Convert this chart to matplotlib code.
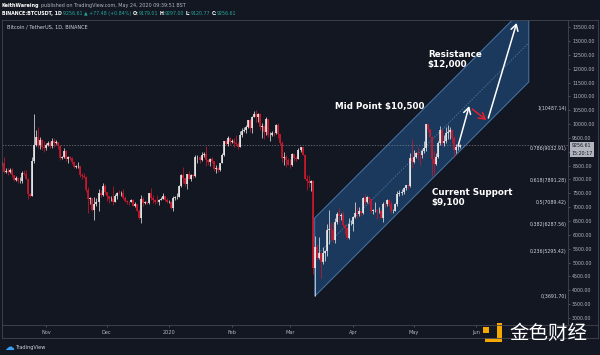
import pandas as pd
import numpy as np
import matplotlib
matplotlib.use('Agg')
import matplotlib.pyplot as plt
import matplotlib.dates as mdates
from matplotlib.lines import Line2D
from matplotlib.patches import Rectangle, Polygon
import matplotlib.transforms as mtransforms

# --- daily candles, BTCUSDT 1D ---
first_open = 8560
dates = pd.date_range('2019-10-10', '2020-05-24', freq='D')

closes_oct = [8590, 8260, 8300, 8280, 8360, 8150, 7990, 8070, 7950, 7960, 8230, 8200, 8020, 7470, 7410, 8660, 9250, 9550, 9250, 9430, 9170, 9150]
highs_oct = [8660, 8800, 8400, 8420, 8400, 8400, 8170, 8120, 8100, 8100, 8300, 8330, 8330, 8050, 7500, 8800, 10370, 9800, 9900, 9550, 9450, 9400]
lows_oct = [8470, 8220, 8230, 8160, 8250, 8100, 7950, 7930, 7880, 7860, 7880, 8150, 8000, 7300, 7350, 7400, 8600, 9200, 9150, 9100, 9050, 9000]

closes_nov = [9260, 9320, 9200, 9400, 9310, 9350, 9200, 8770, 8810, 9040, 8730, 8810, 8760, 8640, 8460, 8490, 8500, 8170, 8120, 8080, 7620, 7280, 7330, 6910, 7120, 7170, 7520, 7430, 7750, 7550]
highs_nov = [9300, 9380, 9380, 9510, 9480, 9420, 9370, 9240, 8860, 9150, 9080, 8850, 8850, 8800, 8680, 8520, 8620, 8500, 8220, 8230, 8120, 7720, 7360, 7330, 7370, 7330, 7650, 7620, 7870, 7820]
lows_nov = [9050, 9200, 9120, 9150, 9180, 9270, 9100, 8700, 8740, 8770, 8670, 8600, 8700, 8570, 8430, 8420, 8410, 8100, 8000, 8050, 7550, 6800, 7100, 6870, 6520, 7050, 6860, 7380, 7420, 7480]

closes_dec = [7400, 7290, 7300, 7200, 7390, 7530, 7510, 7530, 7340, 7220, 7200, 7190, 7250, 7060, 7110, 6880, 6620, 7280, 7150, 7190, 7140, 7510, 7320, 7250, 7200, 7190, 7250, 7300, 7390, 7250, 7200]
highs_dec = [7550, 7420, 7400, 7750, 7490, 7560, 7620, 7580, 7640, 7390, 7270, 7230, 7300, 7280, 7170, 7130, 6940, 7440, 7380, 7220, 7190, 7520, 7700, 7440, 7280, 7440, 7290, 7370, 7520, 7420, 7330]
lows_dec = [7230, 7160, 7230, 7080, 7170, 7310, 7490, 7420, 7310, 7170, 7130, 7080, 7180, 7040, 7010, 6860, 6560, 6440, 7040, 7100, 7120, 7100, 7270, 7160, 7130, 7160, 7080, 7250, 7290, 7220, 7160]

closes_jan = [7200, 6970, 7340, 7350, 7360, 7760, 8160, 8040, 7820, 8200, 8020, 8180, 8110, 8810, 8820, 8720, 8900, 8910, 8700, 8630, 8730, 8660, 8380, 8430, 8330, 8600, 8900, 9390, 9290, 9500, 9350]
highs_jan = [7250, 7210, 7400, 7390, 7500, 7800, 8210, 8460, 8050, 8200, 8290, 8200, 8200, 8880, 8900, 8850, 9000, 9000, 9200, 8750, 8770, 8800, 8680, 8520, 8440, 8600, 8970, 9400, 9430, 9570, 9530]
lows_jan = [7150, 6920, 6870, 7270, 7310, 7350, 7720, 7870, 7750, 7670, 8000, 7960, 8040, 8100, 8580, 8600, 8680, 8800, 8470, 8530, 8500, 8590, 8300, 8240, 8270, 8300, 8580, 8860, 9250, 9220, 9250]

closes_feb = [9380, 9330, 9290, 9180, 9610, 9760, 9800, 9900, 10150, 9850, 10270, 10350, 10240, 10370, 9900, 9930, 9700, 10180, 9600, 9610, 9690, 9670, 9960, 9650, 9310, 8790, 8810, 8710, 8530]
highs_feb = [9460, 9480, 9610, 9340, 9750, 9860, 9880, 9950, 10160, 10180, 10300, 10480, 10520, 10390, 10400, 10050, 9970, 10250, 10200, 9700, 9750, 9700, 9990, 10030, 9660, 9380, 8980, 8900, 8790]
lows_feb = [9300, 9160, 9230, 9090, 9160, 9540, 9730, 9670, 9850, 9730, 9690, 10250, 10080, 10090, 9780, 9480, 9470, 9600, 9550, 9400, 9560, 9580, 9650, 9500, 9260, 8630, 8530, 8450, 8530]

closes_mar = [8520, 8910, 8760, 8750, 9070, 9160, 8900, 8030, 7930, 7880, 7950, 4800, 5580, 5170, 5350, 5030, 5330, 5410, 6190, 6200, 6190, 5810, 6480, 6740, 6680, 6730, 6370, 6250, 5880, 6390, 6410]
highs_mar = [8750, 8950, 8930, 8840, 9140, 9170, 9190, 8920, 8180, 8150, 7990, 7970, 5960, 5670, 5940, 5370, 5550, 5450, 6390, 6900, 6450, 6420, 6600, 6840, 6980, 6800, 6870, 6380, 6270, 6620, 6520]
lows_mar = [8410, 8500, 8650, 8660, 8750, 8990, 8870, 8000, 7630, 7730, 7590, 4580, 3780, 5090, 5130, 4450, 4950, 5060, 5250, 5670, 5860, 5760, 5690, 6380, 6480, 6520, 6270, 6020, 5860, 5860, 6360]

closes_apr = [6640, 6800, 6740, 6860, 6780, 7330, 7200, 7370, 7300, 6870, 6890, 6910, 6860, 6880, 6620, 7120, 7100, 7260, 7130, 6850, 6860, 7130, 7490, 7510, 7540, 7700, 7790, 7760, 8780, 8620]
highs_apr = [6680, 7200, 7000, 6990, 6870, 7370, 7470, 7420, 7380, 7300, 6950, 7180, 6920, 6990, 6940, 7190, 7150, 7300, 7280, 7220, 6940, 7160, 7580, 7620, 7670, 7720, 7800, 7800, 8970, 9460]
lows_apr = [6150, 6600, 6620, 6680, 6700, 6770, 7080, 7150, 7110, 6780, 6770, 6810, 6570, 6800, 6610, 6470, 7000, 7040, 7060, 6800, 6790, 6850, 7030, 7390, 7450, 7470, 7620, 7660, 7740, 8420]

closes_may = [8830, 8970, 8890, 8880, 9030, 9150, 9990, 9810, 9550, 8730, 8570, 8810, 9310, 9790, 9310, 9380, 9680, 9730, 9780, 9510, 9060, 9170, 9180, 9256.61]
highs_may = [9050, 9010, 9190, 8950, 9100, 9390, 9990, 10000, 9820, 9580, 9030, 8970, 9400, 9930, 9840, 9590, 9880, 9950, 9900, 9840, 9570, 9270, 9300, 9297.00]
lows_may = [8610, 8760, 8700, 8530, 8760, 8950, 9030, 9700, 9520, 8120, 8200, 8540, 8780, 9260, 9260, 9220, 9300, 9460, 9470, 9300, 8810, 8950, 9080, 9120.77]

closes = closes_oct + closes_nov + closes_dec + closes_jan + closes_feb + closes_mar + closes_apr + closes_may
highs = highs_oct + highs_nov + highs_dec + highs_jan + highs_feb + highs_mar + highs_apr + highs_may
lows = lows_oct + lows_nov + lows_dec + lows_jan + lows_feb + lows_mar + lows_apr + lows_may
opens = [first_open] + closes[:-1]

last_price = 9256.61

# fib retracement levels
fib_ratios = ['1', '0.786', '0.618', '0.5', '0.382', '0.236', '0']
fib_prices = [10487.14, 9032.91, 7891.28, 7089.42, 6287.56, 5295.42, 3691.70]

# parallel channel
channel_dates = ['2020-03-13', '2020-06-27']
channel_low = [3780, 11520]
channel_width = 2830

# arrows drawn on the chart: (start date, start price, end date, end price)
arrow_up_short = ('2020-05-23', 9210, '2020-05-28 12:00', 10650)
arrow_down = ('2020-05-30', 10545, '2020-06-06', 10150)
arrow_up_long = ('2020-06-07', 10220, '2020-06-21', 13650)

month_ticks = ['2019-11-01', '2019-12-01', '2020-01-01', '2020-02-01', '2020-03-01',
               '2020-04-01', '2020-05-01', '2020-06-01']
month_labels = ['Nov', 'Dec', '2020', 'Feb', 'Mar', 'Apr', 'May', 'Jun']

# --- colours ---
BG = '#131722'
GRID = '#434651'
UP = '#f0f0f0'
DOWN = '#d3172b'
AXIS_TXT = '#b2b5be'
TEAL = '#26a69a'

W, H = 600, 355
fig = plt.figure(figsize=(6, 3.55), dpi=100, facecolor=BG)
ax = fig.add_axes([2 / W, 1 - 325 / H, 566 / W, 305 / H])
ax.set_facecolor(BG)


def fx(px):
    return px / W


def fy(py):
    return 1 - py / H


def dnum(s):
    return mdates.date2num(pd.Timestamp(s))


x = mdates.date2num(dates)
o = np.array(opens, dtype=float)
c = np.array(closes, dtype=float)
hi = np.array(highs, dtype=float)
lo = np.array(lows, dtype=float)
up = c >= o

# channel under the candles
c0, c1 = dnum(channel_dates[0]), dnum(channel_dates[1])
poly = Polygon([(c0, channel_low[0]), (c1, channel_low[1]),
                (c1, channel_low[1] + channel_width), (c0, channel_low[0] + channel_width)],
               closed=True, facecolor='#1c3d63', edgecolor='#4d7fb5', lw=0.7, alpha=0.9, zorder=1)
ax.add_patch(poly)
ax.plot([c0, c1], [channel_low[0] + channel_width / 2, channel_low[1] + channel_width / 2],
        color='#5f83ad', lw=0.5, dashes=(2, 2), zorder=1.5)

# candles
for mask, col in [(up, UP), (~up, DOWN)]:
    ax.vlines(x[mask], lo[mask], hi[mask], color=col, lw=0.5, zorder=3)
    ax.vlines(x[mask], o[mask], c[mask], color=col, lw=1.15, zorder=3)

# last price line
ax.axhline(last_price, color='#787b86', lw=0.5, dashes=(2, 2), zorder=2)

ax.set_xlim(dnum('2019-10-10') + 0.22, dnum('2019-10-10') + 0.22 + 280.2)
ax.set_ylim(2747, 13758)

# fib labels
trans = mtransforms.blended_transform_factory(ax.transAxes, ax.transData)
for r, p in zip(fib_ratios, fib_prices):
    ax.text(0.9975, p, f'{r}({p:.2f})', transform=trans, ha='right', va='bottom',
            fontsize=3.4, color='#d1d4dc', zorder=5)

# annotations
ann_kw = dict(color='white', fontsize=6.3, fontweight='bold', zorder=6)
ax.text(dnum('2020-03-23'), 10653, 'Mid Point $10,500', va='center', **ann_kw)
ax.text(dnum('2020-05-08'), 12330, 'Resistance\n$12,000', va='center', linespacing=1.05, **ann_kw)
ax.text(dnum('2020-05-10'), 7350, 'Current Support\n$9,100', va='center', linespacing=1.05, **ann_kw)

for (d0, p0, d1, p1), col in [(arrow_up_short, 'white'), (arrow_down, '#e0202f'), (arrow_up_long, 'white')]:
    ax.annotate('', xy=(dnum(d1), p1), xytext=(dnum(d0), p0),
                arrowprops=dict(arrowstyle='->,head_length=0.55,head_width=0.32', color=col,
                                lw=1.1, shrinkA=0, shrinkB=0, mutation_scale=8), zorder=6)

# axes / ticks
for s in ax.spines.values():
    s.set_visible(False)
ax.yaxis.tick_right()
yt = list(range(3000, 14000, 500))
ax.set_yticks(yt)
ax.set_yticklabels(['' if v == 9000 else f'{v:.2f}' for v in yt])
ax.tick_params(axis='y', length=1.5, width=0.4, color='#787b86', labelsize=3.4,
               labelcolor=AXIS_TXT, pad=1.5)
ax.set_xticks([dnum(m) for m in month_ticks])
ax.set_xticklabels(month_labels)
ax.tick_params(axis='x', length=1.5, width=0.4, color='#787b86', labelsize=3.6,
               labelcolor=AXIS_TXT, pad=2.2)

# frame lines
def fline(x0, y0, x1, y1):
    fig.add_artist(Line2D([fx(x0), fx(x1)], [fy(y0), fy(y1)], color=GRID, lw=0.6))

fline(2, 20, 598, 20)
fline(2, 338, 598, 338)
fline(2, 20, 2, 338)
fline(598, 20, 598, 338)
fline(2, 325, 598, 325)
fline(568, 20, 568, 325)

# price label on the axis
fig.text(fx(582), fy(149.5), '9256.61\n15:20:17', ha='center', va='center', fontsize=3.4,
         color='#131722', linespacing=1.6,
         bbox=dict(boxstyle='square,pad=0.35', facecolor='#b2b5be', edgecolor='none'))

# header
renderer = fig.canvas.get_renderer()


def segments(parts, px, py, size):
    for txt, col, wt, gap in parts:
        t = fig.text(fx(px), fy(py), txt, color=col, fontweight=wt, fontsize=size, va='center', ha='left')
        bb = t.get_window_extent(renderer)
        px = bb.x1 + gap


segments([('KeithWareing', 'white', 'bold', 1.4),
          ('published on TradingView.com, May 24, 2020 09:39:51 BST', AXIS_TXT, 'normal', 0)], 2, 5, 3.55)
segments([('BINANCE:BTCUSDT, 1D', 'white', 'bold', 1.3),
          ('9256.61 \u25b2 +77.48 (+0.84%)', TEAL, 'normal', 1.3),
          ('O:', 'white', 'bold', 0), ('9179.01', TEAL, 'normal', 1.3),
          ('H:', 'white', 'bold', 0), ('9297.00', TEAL, 'normal', 1.3),
          ('L:', 'white', 'bold', 0), ('9120.77', TEAL, 'normal', 1.3),
          ('C:', 'white', 'bold', 0), ('9256.61', TEAL, 'normal', 0)], 2, 13.5, 3.4)
fig.text(fx(7), fy(27), 'Bitcoin / TetherUS, 1D, BINANCE', color='#d1d4dc', fontsize=3.6, va='center')

# footer logo
fig.text(fx(4), fy(347), '\u2601', color='#3a9ef5', fontsize=7, va='center')
fig.text(fx(15), fy(347), 'TradingView', color='#d1d4dc', fontsize=3.6, va='center')

# watermark
YEL = '#f5a900'
for (x0, y0, x1, y1) in [(483, 327, 489, 333), (497, 323, 502, 342), (485, 338, 502, 342)]:
    fig.add_artist(Rectangle((fx(x0), fy(y1)), (x1 - x0) / W, (y1 - y0) / H,
                             transform=fig.transFigure, facecolor=YEL, edgecolor='none'))
fig.text(fx(509), fy(333), '金色财经', color='white', fontsize=14,
         family=['Noto Sans CJK SC', 'DejaVu Sans'], va='center', ha='left')

fig.savefig('out.png', dpi=100, facecolor=BG)
